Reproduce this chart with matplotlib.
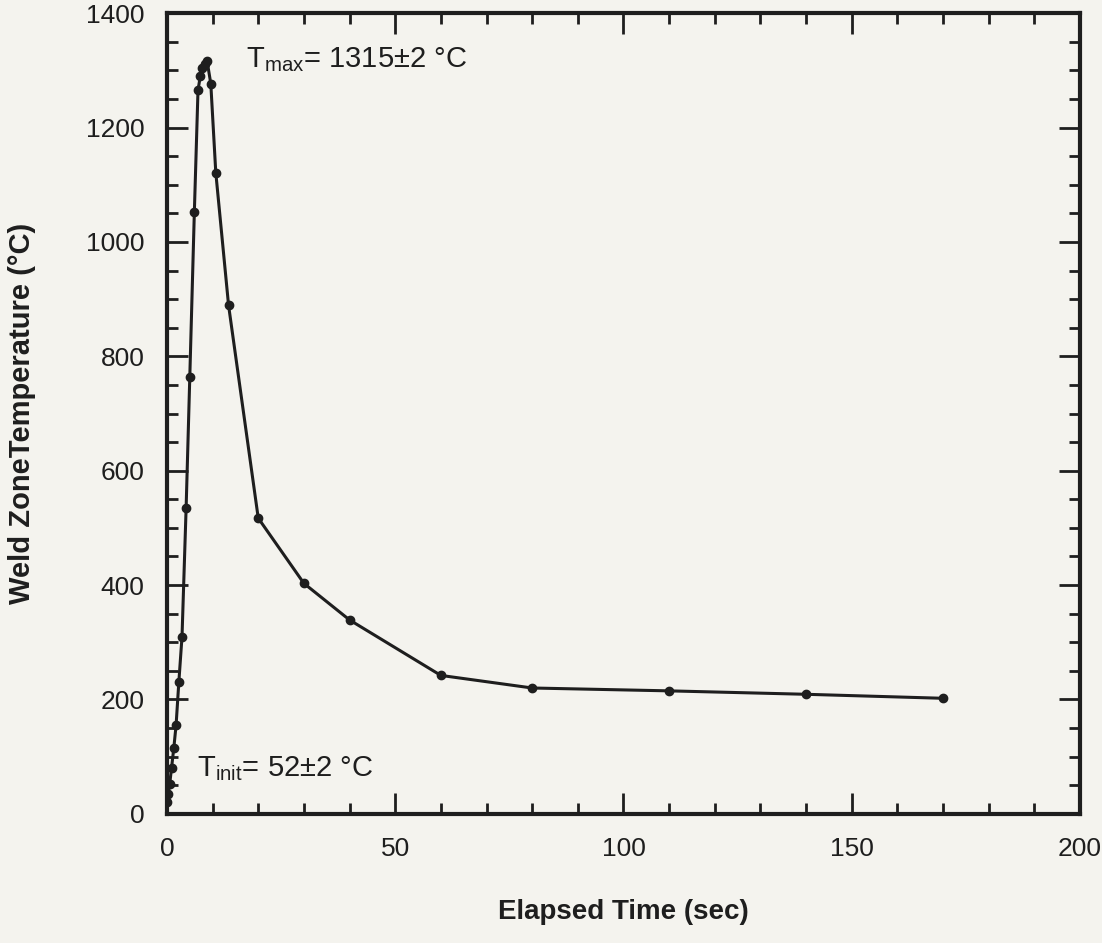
import matplotlib
matplotlib.use('Agg')
import matplotlib.pyplot as plt
from matplotlib.ticker import MultipleLocator

plt.rcParams['font.family'] = ['Liberation Sans', 'DejaVu Sans']
plt.rcParams['mathtext.fontset'] = 'custom'
plt.rcParams['mathtext.rm'] = 'Liberation Sans'
plt.rcParams['mathtext.it'] = 'Liberation Sans'

# elapsed time (s) and weld zone temperature (C)
time_s = [0.0, 0.3, 0.6, 1.0, 1.5, 2.0, 2.6, 3.3, 4.2, 5.0, 6.0, 6.8, 7.3,
          7.7, 8.3, 8.8, 9.6, 10.7, 13.5, 20, 30, 40, 60, 80, 110, 140, 170]
temp_c = [20, 35, 52, 80, 115, 155, 230, 310, 535, 763, 1052, 1265, 1290,
          1305, 1312, 1316, 1277, 1121, 889, 517, 403, 339, 242, 220, 215,
          209, 202]

bg = '#f4f3ee'
ink = '#1e1e1e'

fig = plt.figure(figsize=(11.02, 9.43), dpi=100, facecolor=bg)
ax = fig.add_axes([0.1515, 0.137, 0.8285, 0.849], facecolor=bg)

ax.plot(time_s, temp_c, color=ink, lw=2.2, marker='o', ms=6,
        markerfacecolor=ink, markeredgecolor=ink)

ax.set_xlim(0, 200)
ax.set_ylim(0, 1400)
ax.xaxis.set_major_locator(MultipleLocator(50))
ax.xaxis.set_minor_locator(MultipleLocator(10))
ax.yaxis.set_major_locator(MultipleLocator(200))
ax.yaxis.set_minor_locator(MultipleLocator(50))

ax.tick_params(which='both', direction='in', top=True, right=True,
               color=ink, width=2)
ax.tick_params(which='major', length=15, labelsize=19, labelcolor=ink)
ax.tick_params(which='minor', length=8)
ax.tick_params(axis='x', which='major', pad=17)
ax.tick_params(axis='y', which='major', pad=16)
for sp in ax.spines.values():
    sp.set_linewidth(3)
    sp.set_color(ink)

ax.set_xlabel('Elapsed Time (sec)', fontsize=20, fontweight='bold',
              color=ink)
ax.xaxis.set_label_coords(0.5, -0.106)
ax.set_ylabel('Weld ZoneTemperature (°C)', fontsize=21, fontweight='bold',
              color=ink)
ax.yaxis.set_label_coords(-0.1435, 0.5)

ax.text(17.3, 1305, r'T$_{\rm max}$= 1315±2 °C', fontsize=21, color=ink,
        va='baseline')
ax.text(6.6, 65, r'T$_{\rm init}$= 52±2 °C', fontsize=21, color=ink,
        va='baseline')

fig.savefig('out.png', dpi=100, facecolor=bg)
